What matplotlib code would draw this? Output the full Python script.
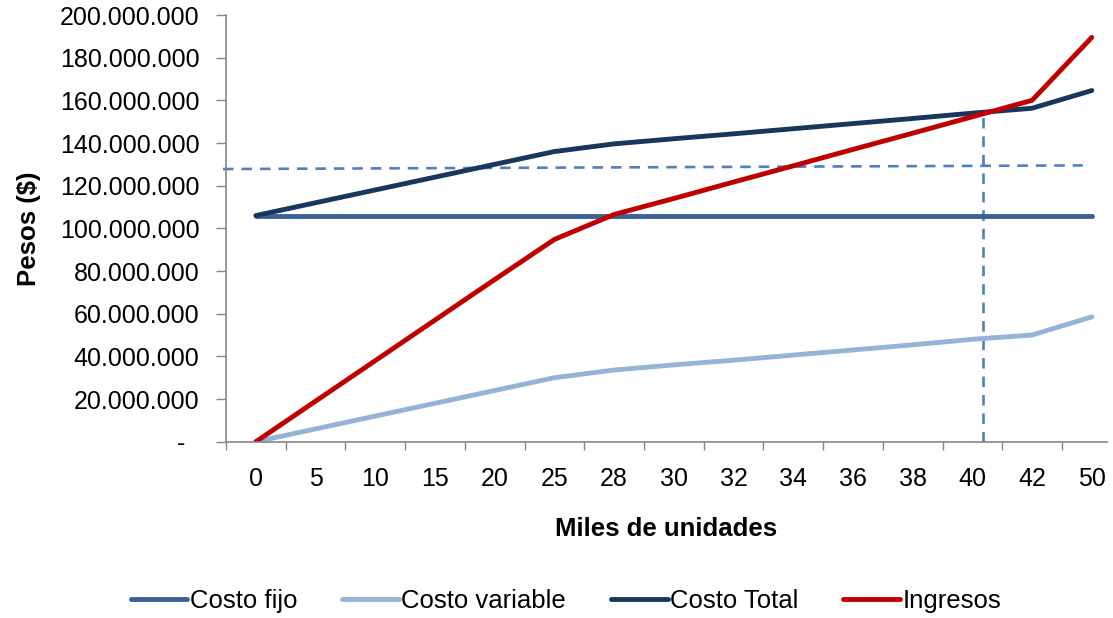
import matplotlib
matplotlib.use("Agg")
import matplotlib.pyplot as plt
from matplotlib.ticker import FuncFormatter, FixedLocator

plt.rcParams['font.family'] = ['Liberation Sans', 'DejaVu Sans']

# Thousands of units sold (categorical axis)
unidades = ["0", "5", "10", "15", "20", "25", "28", "30", "32", "34", "36", "38", "40", "42", "50"]

costo_fijo = [106_000_000] * 15
costo_variable = [0, 6_000_000, 12_000_000, 18_000_000, 24_000_000, 30_000_000, 33_600_000,
                  36_000_000, 38_200_000, 40_600_000, 43_000_000, 45_400_000, 48_000_000,
                  50_000_000, 58_500_000]
costo_total = [106_000_000, 112_000_000, 118_000_000, 124_000_000, 130_000_000, 136_000_000,
               139_600_000, 142_000_000, 144_300_000, 146_700_000, 149_100_000, 151_500_000,
               154_000_000, 156_300_000, 164_600_000]
ingresos = [0, 19_000_000, 38_000_000, 57_000_000, 76_000_000, 94_800_000, 106_500_000,
            114_000_000, 121_700_000, 129_300_000, 137_000_000, 144_600_000, 152_300_000,
            160_000_000, 189_500_000]

# Reference guides: break-even level and position
guia_y = [127_800_000, 129_500_000]
guia_x = [-0.55, 13.85]
equilibrio_x = 12.18
equilibrio_y = 154_200_000

fig = plt.figure(figsize=(11.13, 6.18), dpi=100)
ax = fig.add_axes([226 / 1113, 1 - 441.7 / 618, (1107 - 226) / 1113, (441.7 - 15) / 618])

x = list(range(len(unidades)))
lw = 3.5
ax.plot(x, costo_fijo, color="#3A6296", lw=lw, label="Costo fijo", solid_capstyle="round")
ax.plot(x, costo_variable, color="#95B3D7", lw=lw, label="Costo variable", solid_capstyle="round")
ax.plot(x, costo_total, color="#17375E", lw=lw, label="Costo Total", solid_capstyle="round")
ax.plot(x, ingresos, color="#C00000", lw=lw, label="Ingresos", solid_capstyle="round")

ax.plot(guia_x, guia_y, color="#4F81BD", lw=1.9, dashes=(4, 3), clip_on=False, zorder=1)
ax.plot([equilibrio_x, equilibrio_x], [0, equilibrio_y], color="#4F81BD", lw=1.9,
        dashes=(4, 3), zorder=1)

ax.set_xlim(-0.5, -0.5 + (1107 - 226) / 59.71)
ax.set_ylim(0, 200_000_000)

ax.set_yticks(range(0, 200_000_001, 20_000_000))

def miles(v, pos):
    if v == 0:
        return "-  "
    return f"{int(v):,}".replace(",", ".")

ax.yaxis.set_major_formatter(FuncFormatter(miles))
ax.set_xticks(x)
ax.set_xticklabels(unidades)
ax.xaxis.set_minor_locator(FixedLocator([i - 0.5 for i in range(len(unidades))]))
ax.tick_params(axis="x", which="major", length=0, pad=18, labelsize=18)
ax.tick_params(axis="x", which="minor", length=6, width=1, color="#868686")
ax.tick_params(axis="y", length=7, width=1, color="#868686", labelsize=18, pad=12)

for s in ("top", "right"):
    ax.spines[s].set_visible(False)
for s in ("left", "bottom"):
    ax.spines[s].set_color("#868686")
    ax.spines[s].set_linewidth(1.2)

ax.set_xlabel("Miles de unidades", fontsize=18.5, fontweight="bold", labelpad=19)
ax.set_ylabel("Pesos ($)", fontsize=18.5, fontweight="bold", labelpad=14)

fig.legend(loc="center", bbox_to_anchor=(566 / 1113, 1 - 601 / 618), ncol=4, frameon=False,
           fontsize=18.5, handlelength=2.2, handletextpad=0.1, columnspacing=1.75)

fig.savefig("out.png", dpi=100)
